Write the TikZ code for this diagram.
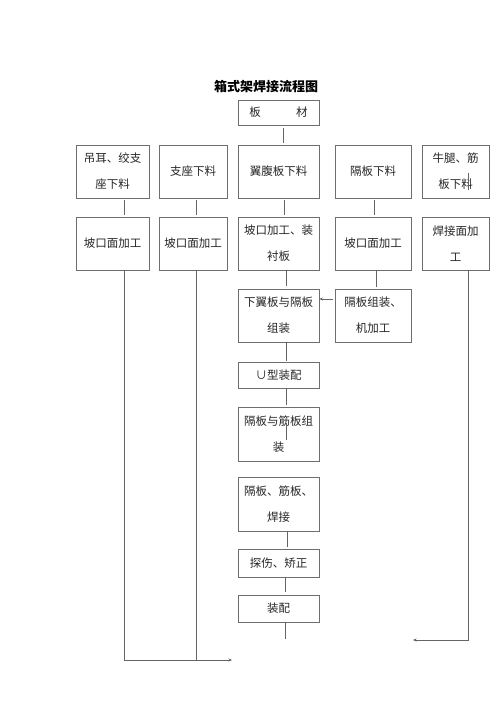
\documentclass[tikz,border=0pt]{standalone}
\usepackage{fontspec}
\newfontfamily\cjk{Noto Sans CJK SC}
\usetikzlibrary{arrows.meta}
\definecolor{ln}{RGB}{100,100,100}
\definecolor{bx}{RGB}{110,110,110}
\tikzset{
  x=1pt,y=-1pt,
  boxnode/.style={draw=bx,line width=0.7pt,inner sep=0pt,align=center,
    font=\cjk\fontsize{11.5}{26}\selectfont,text=black!85},
  conn/.style={draw=ln,line width=0.7pt},
  tip/.style={-{Stealth[length=3.5pt,width=3pt]}}
}
\begin{document}
\begin{tikzpicture}
\useasboundingbox[fill=white] (0,0) rectangle (500,707);
\node[font=\cjk\bfseries\fontsize{13}{15}\selectfont] (title) at (266,87) {箱式架焊接流程图};
% top
\node[boxnode,minimum width=81pt,minimum height=25pt] (ban) at (278.5,112.5) {板\hspace{3.05em}材};
% row 1
\node[boxnode,minimum width=73pt,minimum height=53pt] (r1a) at (112.5,171.5) {吊耳、绞支\\座下料};
\node[boxnode,minimum width=68pt,minimum height=53pt] (r1b) at (193,171.5) {支座下料};
\node[boxnode,minimum width=81pt,minimum height=53pt] (r1c) at (278.5,171.5) {翼腹板下料};
\node[boxnode,minimum width=76pt,minimum height=53pt] (r1d) at (373,171.5) {隔板下料};
\node[boxnode,minimum width=67pt,minimum height=53pt] (r1e) at (455.5,171.5) {牛腿、筋\\板下料};
% row 2
\node[boxnode,minimum width=73pt,minimum height=53pt] (r2a) at (112.5,243.5) {坡口面加工};
\node[boxnode,minimum width=68pt,minimum height=53pt] (r2b) at (193,243.5) {坡口面加工};
\node[boxnode,minimum width=81pt,minimum height=53pt] (r2c) at (278.5,243.5) {坡口加工、装\\衬板};
\node[boxnode,minimum width=76pt,minimum height=53pt] (r2d) at (373,243.5) {坡口面加工};
\node[boxnode,minimum width=67pt,minimum height=53pt] (r2e) at (455.5,243.5) {焊接面加\\工};
% row 3
\node[boxnode,minimum width=81pt,minimum height=53pt] (r3c) at (278.5,315.5) {下翼板与隔板\\组装};
\node[boxnode,minimum width=76pt,minimum height=53pt] (r3d) at (373,315.5) {隔板组装、\\机加工};
% centre column
\node[boxnode,minimum width=81pt,minimum height=26pt] (uz) at (278.5,375) {∪型装配};
\node[boxnode,minimum width=81pt,minimum height=54pt] (gj) at (278.5,434) {隔板与筋板组\\装};
\node[boxnode,minimum width=81pt,minimum height=54pt] (hj) at (278.5,504) {隔板、筋板、\\焊接};
\node[boxnode,minimum width=81pt,minimum height=28pt] (ts) at (278.5,563) {探伤、矫正};
\node[boxnode,minimum width=81pt,minimum height=27pt] (zp) at (278.5,608.5) {装配};
% free ends
\coordinate (zpend) at (285,639);
\coordinate (bl) at (124,660);
\coordinate (bm) at (196,660);
\coordinate (bend) at (232,660);
\coordinate (br) at (468,640);
\coordinate (brend) at (413,640);
% connectors (yshift in canvas sense: + is up)
\draw[conn] ([xshift=4.5pt,yshift=-3pt]ban.south) -- ([xshift=4.5pt,yshift=2pt]r1c.north);
\draw[conn] ([xshift=11.5pt,yshift=-2pt]r1a.south) -- ([xshift=11.5pt,yshift=2pt]r2a.north);
\draw[conn] ([xshift=3pt,yshift=-2pt]r1b.south) -- ([xshift=3pt,yshift=2pt]r2b.north);
\draw[conn] ([xshift=5.5pt,yshift=-2pt]r1c.south) -- ([xshift=5.5pt,yshift=2pt]r2c.north);
\draw[conn] ([xshift=1pt,yshift=-2pt]r1d.south) -- ([xshift=1pt,yshift=2pt]r2d.north);
\draw[conn] ([xshift=7.5pt]r2c.south) -- ([xshift=7.5pt,yshift=3pt]r3c.north);
\draw[conn] ([xshift=3pt]r2d.south) -- ([xshift=3pt,yshift=2pt]r3d.north);
\draw[conn,tip] ([xshift=-2pt,yshift=16.5pt]r3d.west) -- ([yshift=16.5pt]r3c.east);
\draw[conn] ([xshift=7.5pt]r3c.south) -- ([xshift=7.5pt,yshift=1pt]uz.north);
\draw[conn] ([xshift=7.5pt]uz.south) -- ([xshift=7.5pt,yshift=2pt]gj.north);
\draw[conn] ([xshift=8.5pt]hj.south) -- ([xshift=8.5pt,yshift=2pt]ts.north);
\draw[conn] ([xshift=6.5pt]ts.south) -- ([xshift=6.5pt,yshift=3pt]zp.north);
\draw[conn] ([xshift=6.5pt]zp.south) -- (zpend);
% stray segments inside boxes
\draw[conn] ([xshift=7.5pt,yshift=11pt]gj.center) -- ([xshift=7.5pt,yshift=-6pt]gj.center);
\draw[conn] ([xshift=12.5pt,yshift=-1.5pt]r1e.center) -- ([xshift=12.5pt,yshift=-18.5pt]r1e.center);
% long return lines
\draw[conn] ([xshift=11.5pt]r2a.south) -- (bl) -- (bm);
\draw[conn,tip] ([xshift=3pt]r2b.south) -- (bm) -- (bend);
\draw[conn,tip] ([xshift=12.5pt]r2e.south) -- (br) -- (brend);
\end{tikzpicture}
\end{document}
